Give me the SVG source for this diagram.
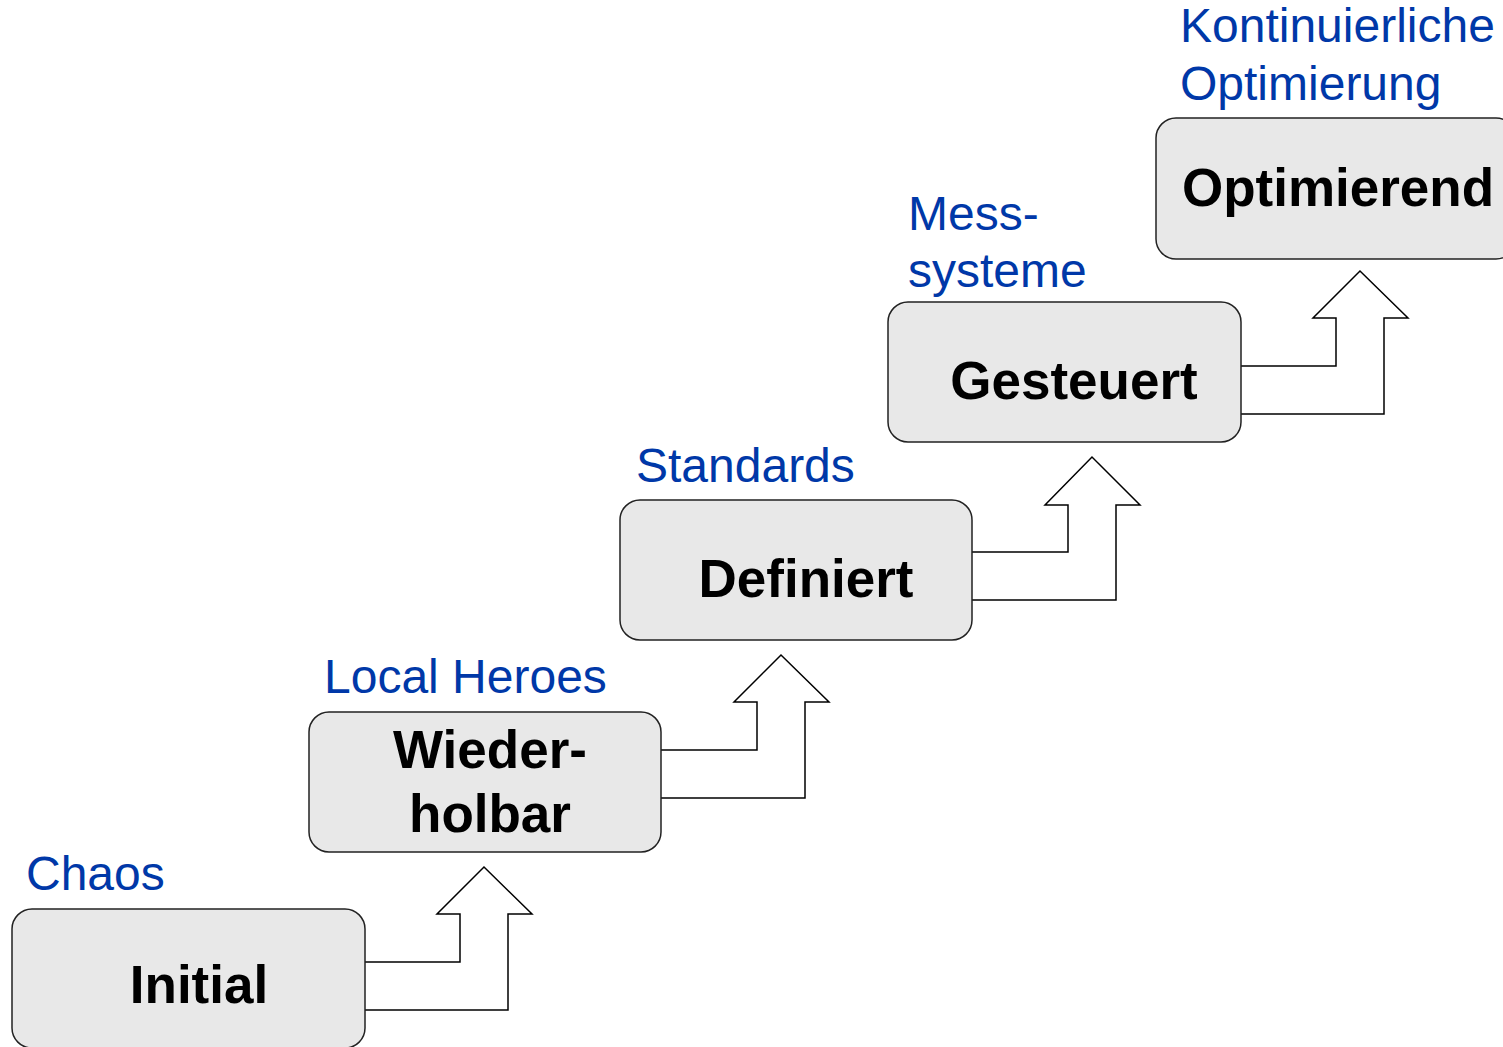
<svg xmlns="http://www.w3.org/2000/svg" width="1503" height="1047" viewBox="0 0 1503 1047">
<style>
.box{fill:#e8e8e8;stroke:#222;stroke-width:1.5}
.lbl{font-family:"Liberation Sans",Arial,sans-serif;font-size:53px;font-weight:bold;fill:#000;text-anchor:middle}
.cap{font-family:"Liberation Sans",Arial,sans-serif;font-size:48px;fill:#0038a8}
.arr{fill:#fff;stroke:#000;stroke-width:1.5;stroke-linejoin:miter}
</style>
<rect width="1503" height="1047" fill="#fff"/>
<g id="connectors">
<path class="arr" d="M365,962 H460 V914 H437 L484,867 L532,914 H508 V1010 H365"/>
<path class="arr" d="M661,750 H757 V702 H734 L781,655 L829,702 H805 V798 H661"/>
<path class="arr" d="M972,552 H1068 V505 H1045 L1092,457 L1140,505 H1116 V600 H972"/>
<path class="arr" d="M1241,366 H1336 V318 H1313 L1360,271 L1408,318 H1384 V414 H1241"/>
</g>
<g id="initial">
<rect class="box" x="12" y="909" width="353" height="139" rx="20"/>
<text class="lbl" x="199" y="1003">Initial</text>
<text class="cap" x="26" y="890">Chaos</text>
</g>
<g id="wiederholbar">
<rect class="box" x="309" y="712" width="352" height="140" rx="20"/>
<text class="lbl" x="490" y="768">Wieder-</text>
<text class="lbl" x="490" y="832">holbar</text>
<text class="cap" x="324" y="693">Local Heroes</text>
</g>
<g id="definiert">
<rect class="box" x="620" y="500" width="352" height="140" rx="20"/>
<text class="lbl" x="806" y="597">Definiert</text>
<text class="cap" x="636" y="482">Standards</text>
</g>
<g id="gesteuert">
<rect class="box" x="888" y="302" width="353" height="140" rx="20"/>
<text class="lbl" x="1074" y="399">Gesteuert</text>
<text class="cap" x="908" y="230">Mess-</text>
<text class="cap" x="908" y="287">systeme</text>
</g>
<g id="optimierend">
<rect class="box" x="1156" y="118" width="360" height="141" rx="20"/>
<text class="lbl" x="1338" y="206">Optimierend</text>
<text class="cap" x="1180" y="42">Kontinuierliche</text>
<text class="cap" x="1180" y="100">Optimierung</text>
</g>
</svg>
